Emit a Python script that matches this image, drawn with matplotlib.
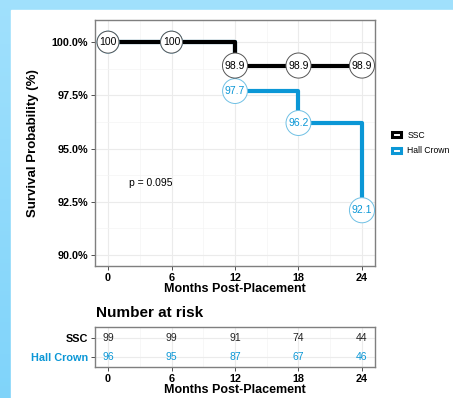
import numpy as np
import matplotlib
matplotlib.use("Agg")
import matplotlib.pyplot as plt
from matplotlib.patches import Rectangle, Patch

plt.rcParams['font.family'] = ['Liberation Sans', 'DejaVu Sans']

# data
months = [0, 6, 12, 18, 24]
ssc_surv = [100, 100, 98.9, 98.9, 98.9]
hall_surv = [100, 100, 97.7, 96.2, 92.1]
ssc_risk = [99, 99, 91, 74, 44]
hall_risk = [96, 95, 87, 67, 46]
groups = ["SSC", "Hall Crown"]
y_ticks = [90.0, 92.5, 95.0, 97.5, 100.0]
p_text = "p = 0.095"

BLUE = "#0B97D6"
W, H = 453, 398

fig = plt.figure(figsize=(W / 100, H / 100), dpi=100)

# blue page background with white card
bg = fig.add_axes([0, 0, 1, 1], zorder=-10)
grad = np.linspace(0, 1, 100).reshape(-1, 1)
top = np.array([0.63, 0.88, 0.99])
bot = np.array([0.50, 0.83, 0.98])
img = top + (bot - top) * grad[..., None]
bg.imshow(img, aspect="auto", extent=[0, 1, 0, 1], origin="upper")
bg.add_patch(Rectangle((11 / W, 0), 1, 1 - 10 / H, color="white"))
bg.set_xlim(0, 1)
bg.set_ylim(0, 1)
bg.axis("off")


def px_axes(left, top, right, bottom):
    return fig.add_axes([left / W, 1 - bottom / H, (right - left) / W, (bottom - top) / H])


def style(ax):
    ax.set_facecolor("white")
    for s in ax.spines.values():
        s.set_color("#7f7f7f")
        s.set_linewidth(1.0)
    ax.grid(True, which="major", color="#ebebeb", lw=0.8)
    ax.grid(True, which="minor", color="#f4f4f4", lw=0.5)
    ax.set_axisbelow(True)
    ax.tick_params(which="major", length=3, color="#333333", width=0.6,
                   labelsize=7.8, pad=2)
    ax.tick_params(which="minor", length=0)


# survival curves
ax = px_axes(95, 20, 375, 266)
style(ax)
ax.step(months, hall_surv, where="post", color=BLUE, lw=3.0, zorder=2)
ax.step(months, ssc_surv, where="post", color="black", lw=3.0, zorder=3)
for x, y in zip(months, hall_surv):
    ax.text(x, y, f"{y:g}", ha="center", va="center", fontsize=7.5, color=BLUE, zorder=4,
            bbox=dict(boxstyle="circle,pad=0.22", fc="white", ec="#6fc0e4", lw=0.7))
for x, y in zip(months, ssc_surv):
    ax.text(x, y, f"{y:g}", ha="center", va="center", fontsize=7.5, color="black", zorder=5,
            bbox=dict(boxstyle="circle,pad=0.22", fc="white", ec="#555555", lw=0.7))

ax.set_xlim(-1.23, 25.23)
ax.set_ylim(89.48, 101.04)
ax.set_xticks(months)
ax.set_xticks([3, 9, 15, 21], minor=True)
ax.set_yticks(y_ticks)
ax.set_yticks([91.25, 93.75, 96.25, 98.75], minor=True)
ax.set_yticklabels([f"{v:.1f}%" for v in y_ticks], fontweight="bold")
ax.set_xticklabels([str(m) for m in months], fontweight="bold")
ax.set_xlabel("Months Post-Placement", fontsize=9, fontweight="bold", labelpad=0)
ax.set_ylabel("Survival Probability (%)", fontsize=9.5, fontweight="bold", labelpad=9)
ax.text(2.0, 93.4, p_text, fontsize=7.5, ha="left", va="center")

handles = [Patch(fc="white", ec="black", lw=2.2), Patch(fc="white", ec=BLUE, lw=2.2)]
leg = ax.legend(handles, groups, loc="center left", bbox_to_anchor=(1.045, 0.5),
                frameon=False, fontsize=6.2, handlelength=1.0, handleheight=0.6,
                handletextpad=0.8, labelspacing=0.8, borderpad=0)

# number at risk table
fig.text(96 / W, 1 - 313 / H, "Number at risk", fontsize=11, fontweight="bold",
         ha="left", va="center")
rt = px_axes(95, 327, 375, 367)
style(rt)
for x, n in zip(months, ssc_risk):
    rt.text(x, 1, str(n), ha="center", va="center", fontsize=7.5, color="#222222")
for x, n in zip(months, hall_risk):
    rt.text(x, 0, str(n), ha="center", va="center", fontsize=7.5, color=BLUE)
rt.set_xlim(-1.23, 25.23)
rt.set_ylim(-0.55, 1.6)
rt.set_xticks(months)
rt.set_xticks([3, 9, 15, 21], minor=True)
rt.set_xticklabels([str(m) for m in months], fontweight="bold")
rt.set_yticks([1, 0])
rt.set_yticklabels(groups, fontweight="bold")
rt.get_yticklabels()[1].set_color(BLUE)
rt.set_xlabel("Months Post-Placement", fontsize=9, fontweight="bold", labelpad=0)

fig.savefig("out.png", dpi=100)
